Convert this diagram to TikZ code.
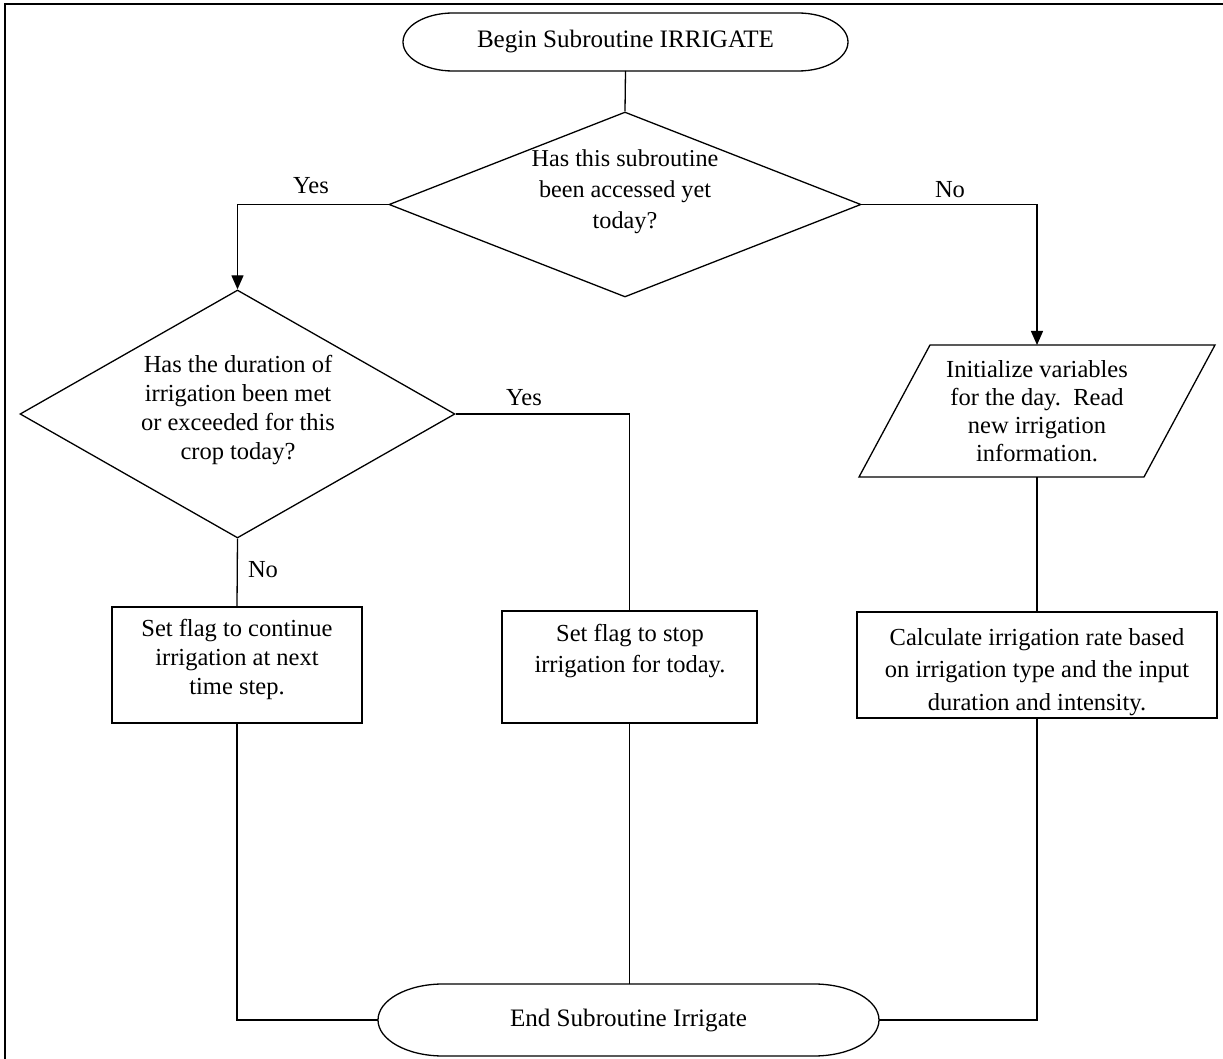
\documentclass[tikz,border=0pt]{standalone}
\usepackage{fontspec}
\setmainfont{Liberation Serif}
\usetikzlibrary{shapes.geometric,arrows.meta,calc}
\begin{document}
\begin{tikzpicture}[x=0.5pt,y=-0.5pt,line width=0.65pt,
  txt/.style={align=center,inner sep=0pt,font=\fontsize{12.25}{15}\selectfont},
  lbl/.style={inner sep=0pt,font=\fontsize{12.25}{15}\selectfont},
  box/.style={draw,rectangle,inner sep=0pt},
  term/.style={rectangle,inner sep=0pt,outer sep=0pt,align=center,font=\fontsize{12.55}{15}\selectfont},
  decision/.style={draw,diamond,inner sep=0pt},
  arrow/.style={-{Triangle[length=7pt,width=6pt]}}]

\useasboundingbox (0,0) rectangle (1223,1059);
% page frame
\draw[line width=1pt] (5,1059) -- (5,4) -- (1223,4);

% start terminator
\node[term,minimum width=222.5pt,minimum height=29pt] (begin) at (625.5,42) {Begin Subroutine IRRIGATE};
\draw ($(begin.north west)+(50,0)$) -- ($(begin.north east)+(-50,0)$)
  arc[start angle=90,end angle=-90,x radius=25pt,y radius=14.5pt]
  -- ($(begin.south west)+(50,0)$)
  arc[start angle=270,end angle=90,x radius=25pt,y radius=14.5pt] -- cycle;

% first decision
\node[decision,minimum width=236pt,minimum height=92.5pt] (q1) at (625,204.5) {};
\node[txt,font=\fontsize{12.1}{15.5}\selectfont] (q1t) at (625,192) {Has this subroutine\\been accessed yet\\today?};

% second decision
\node[decision,minimum width=217.5pt,minimum height=124pt] (q2) at (237.5,414) {};
\node[txt,font=\fontsize{12.25}{14.5}\selectfont] (q2t) at (238,410) {Has the duration of\\irrigation been met\\or exceeded for this\\crop today?};

% input parallelogram
\node[term,minimum width=142.5pt,minimum height=66pt,font=\fontsize{12.25}{14}\selectfont] (init) at (1037,411)
  {Initialize variables\\for the day.\ \ Read\\new irrigation\\information.};
\draw ($(init.north west)+(35.5,0)$) -- ($(init.north east)+(35.5,0)$)
  -- ($(init.south east)+(-35.5,0)$) -- ($(init.south west)+(-35.5,0)$) -- cycle;

% process boxes
\node[box,minimum width=125pt,minimum height=58pt] (boxL) at (237,665) {};
\node[txt,font=\fontsize{12.25}{14.5}\selectfont] (boxLt) at (237,659) {Set flag to continue\\irrigation at next\\time step.};
\node[box,minimum width=127.5pt,minimum height=56pt] (boxM) at (629.5,667) {};
\node[txt,font=\fontsize{12.25}{15.5}\selectfont] (boxMt) at (630,651) {Set flag to stop\\irrigation for today.};
\node[box,minimum width=180pt,minimum height=53pt] (calc) at (1037,665) {};
\node[txt,font=\fontsize{12.25}{16.2}\selectfont] (calct) at (1037,672) {Calculate irrigation rate based\\on irrigation type and the input\\duration and intensity.};

% end terminator
\node[term,minimum width=250.5pt,minimum height=36pt] (end) at (628.5,1020) {End Subroutine Irrigate};
\draw ($(end.north west)+(65,0)$) -- ($(end.north east)+(-65,0)$)
  arc[start angle=90,end angle=-90,x radius=32.5pt,y radius=18pt]
  -- ($(end.south west)+(65,0)$)
  arc[start angle=270,end angle=90,x radius=32.5pt,y radius=18pt] -- cycle;

% branch labels
\node[lbl] (yes1) at (311,186) {Yes};
\node[lbl] (no1) at (950,190) {No};
\node[lbl] (yes2) at (524,398) {Yes};
\node[lbl] (no2) at (263,570) {No};

% connectors
\draw (begin.south) -- (q1.north);
\draw[arrow] (q1.west) -| (q2.north);
\draw[arrow] (q1.east) -| (init.north);
\draw (q2.east) -| (boxM.north);
\draw (q2.south) -- (boxL.north);
\draw (boxL.south) |- (end.west);
\draw (boxM.south) -- (boxM.south |- end.north);
\draw (init.south) -- (calc.north);
\draw (calc.south) |- (end.east);
\end{tikzpicture}
\end{document}
